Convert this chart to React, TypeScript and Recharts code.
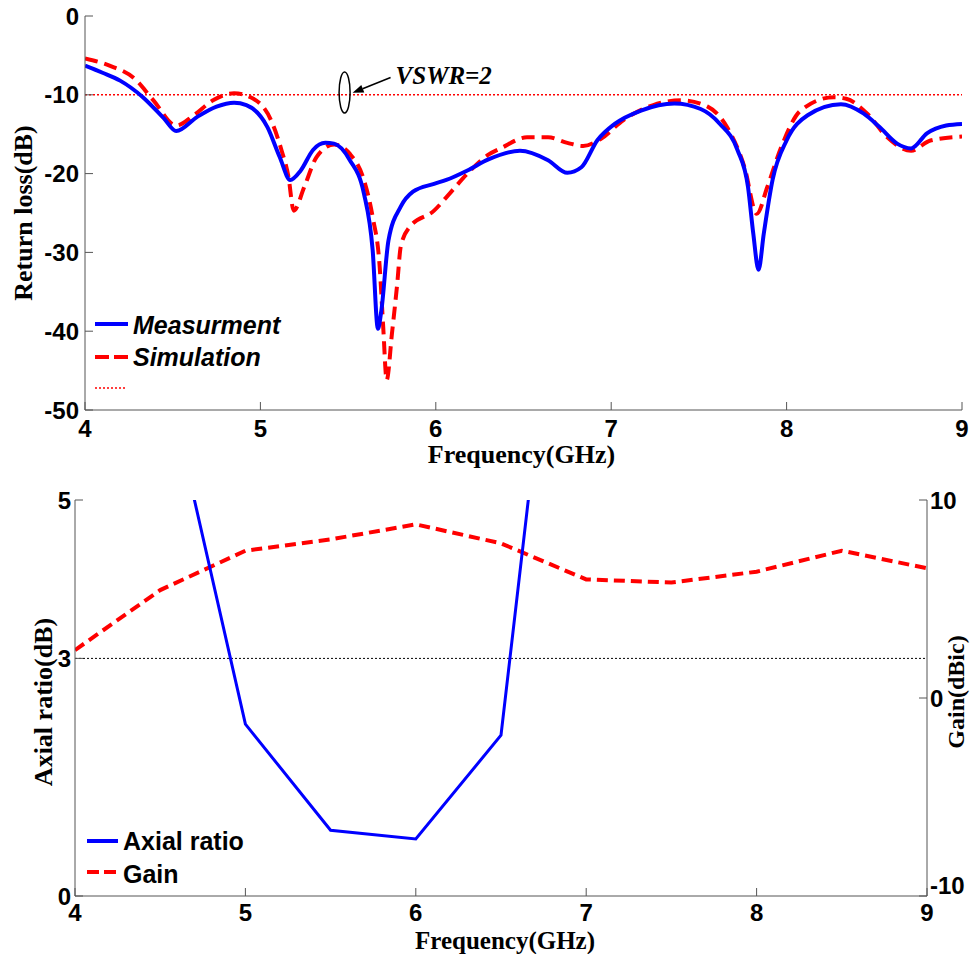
import React from "react";
import {
  LineChart,
  Line,
  XAxis,
  YAxis,
  ReferenceLine,
  ReferenceDot,
  Legend,
} from "recharts";

// ---- data ----
const FREQ_TICKS = [4, 5, 6, 7, 8, 9];
const RL_TICKS = [-50, -40, -30, -20, -10, 0];
const AR_TICKS = [0, 3, 5];
const GAIN_TICKS = [-10, 0, 10];

const measFreq = [
  4.0, 4.1, 4.2, 4.33, 4.45, 4.52, 4.64, 4.75, 4.85, 4.92, 5.04, 5.11, 5.17,
  5.23, 5.3, 5.37, 5.42, 5.51, 5.59, 5.64, 5.67, 5.69, 5.73, 5.8, 5.87, 5.99,
  6.06, 6.18, 6.3, 6.48, 6.64, 6.75, 6.83, 6.92, 7.02, 7.17, 7.36, 7.51, 7.62,
  7.72, 7.78, 7.81, 7.84, 7.87, 7.92, 8.0, 8.12, 8.31, 8.44, 8.53, 8.63, 8.71,
  8.8, 8.91, 9.0,
];
const measRL = [
  -6.3, -7.2, -8.2, -10.3, -13.0, -14.6, -12.8, -11.5, -11.0, -11.3, -14.1,
  -17.9, -20.8, -19.6, -17.0, -16.1, -16.2, -18.3, -22.5, -29.7, -39.7, -37.3,
  -28.5, -24.2, -22.3, -21.3, -20.8, -19.6, -18.2, -17.1, -18.3, -19.9, -19.2,
  -15.8, -13.7, -12.0, -11.1, -11.8, -13.7, -17.0, -21.7, -27.6, -32.2, -27.6,
  -20.8, -15.8, -12.6, -11.2, -12.4, -14.1, -16.2, -16.8, -14.9, -13.9, -13.7,
];

const simFreq = [
  4.0, 4.14, 4.28, 4.39, 4.52, 4.62, 4.73, 4.85, 4.96, 5.06, 5.12, 5.16, 5.19,
  5.25, 5.32, 5.42, 5.51, 5.59, 5.64, 5.68, 5.7, 5.72, 5.75, 5.78, 5.8, 5.85,
  5.99, 6.08, 6.18, 6.3, 6.37, 6.52, 6.64, 6.75, 6.84, 6.94, 7.07, 7.24, 7.4,
  7.55, 7.66, 7.76, 7.83, 7.89, 7.97, 8.08, 8.27, 8.34, 8.46, 8.57, 8.71, 8.82,
  9.0,
];
const simRL = [
  -5.4, -6.3, -7.9, -10.7, -13.9, -12.6, -10.7, -9.8, -10.5, -13.2, -17.0,
  -20.4, -24.7, -21.7, -17.9, -16.3, -17.5, -20.8, -25.5, -31.8, -39.4, -46.2,
  -40.3, -34.0, -29.3, -26.8, -24.7, -22.5, -20.0, -17.6, -16.8, -15.4, -15.4,
  -16.1, -16.5, -15.6, -13.2, -11.3, -10.7, -11.5, -14.1, -19.2, -25.1, -21.7,
  -16.6, -12.0, -10.3, -10.5, -12.4, -15.3, -17.1, -15.8, -15.3,
];

const arFreq = [4.5, 5, 5.5, 6, 6.5, 7];
const arValues = [6.9, 2.17, 0.83, 0.72, 2.03, 11.3];

const gainFreq = [4, 4.5, 5, 5.5, 6, 6.5, 7, 7.5, 8, 8.5, 9];
const gainValues = [2.42, 5.45, 7.44, 8.01, 8.77, 7.81, 5.99, 5.83, 6.38, 7.44, 6.55];

const VSWR_LEVEL = -10;
const AR_LIMIT = 3;

const topSeries = ["Measurment", "Simulation"];
const bottomSeries = ["Axial ratio", "Gain"];

const zip = (xs: number[], ys: number[]) => xs.map((f, i) => ({ f, v: ys[i] }));

// ---- styling ----
const BLUE = "#0000ff";
const RED = "#ff0000";
const AXIS = "#555555";
const SANS = "'Liberation Sans', Arial, sans-serif";
const SERIF = "'Liberation Serif', 'Times New Roman', serif";

// inward MATLAB-style ticks; label optional
const XTick = (props: any) => {
  const { x, y, payload, dir, labelDy, showLabel } = props;
  return (
    <g>
      <line x1={x} y1={y} x2={x} y2={y + dir * 8} stroke={AXIS} />
      {showLabel && (
        <text
          x={x}
          y={y + labelDy}
          textAnchor="middle"
          fontFamily={SANS}
          fontWeight="bold"
          fontSize={24}
          fill="#000"
        >
          {payload.value}
        </text>
      )}
    </g>
  );
};

const YTick = (props: any) => {
  const { x, y, payload, dir, labelDx, anchor, showLabel, liftValue, lift = 0 } = props;
  // the lowest label on the gain axis sits a little higher, clear of the "9"
  const ly = payload.value === liftValue ? y - lift : y;
  return (
    <g>
      <line x1={x} y1={y} x2={x + dir * 8} y2={y} stroke={AXIS} />
      {showLabel && (
        <text
          x={x + labelDx}
          y={ly}
          dy="0.36em"
          textAnchor={anchor}
          fontFamily={SANS}
          fontWeight="bold"
          fontSize={24}
          fill="#000"
        >
          {payload.value}
        </text>
      )}
    </g>
  );
};

const XTitle = ({ viewBox, text, dx, dy, size }: any) => (
  <text
    x={viewBox.x + viewBox.width / 2 + dx}
    y={viewBox.y + dy}
    textAnchor="middle"
    fontFamily={SERIF}
    fontWeight="bold"
    fontSize={size}
    fill="#000"
  >
    {text}
  </text>
);

const YTitle = ({ viewBox, text, cx, dy, size }: any) => {
  const cy = viewBox.y + viewBox.height / 2 + dy;
  return (
    <text
      x={cx}
      y={cy}
      transform={`rotate(-90 ${cx} ${cy})`}
      textAnchor="middle"
      dominantBaseline="central"
      fontFamily={SERIF}
      fontWeight="bold"
      fontSize={size}
      fill="#000"
    >
      {text}
    </text>
  );
};

const VswrMark = ({ cx, cy }: any) => (
  <g>
    <ellipse cx={cx} cy={cy} rx={5.5} ry={20.5} fill="none" stroke="#000" strokeWidth={1.5} />
    <line x1={cx + 46} y1={cy - 15} x2={cx + 18} y2={cy - 3.7} stroke="#000" strokeWidth={1.5} />
    <polygon
      points={`${cx + 8},${cy + 0.4} ${cx + 19.7},${cy} ${cx + 16.7},${cy - 7.4}`}
      fill="#000"
    />
    <text
      x={cx + 51}
      y={cy - 8}
      fontFamily={SERIF}
      fontStyle="italic"
      fontWeight="bold"
      fontSize={25}
      fill="#000"
    >
      VSWR=2
    </text>
  </g>
);

const TopLegend = () => (
  <svg width={220} height={100}>
    <line x1={5} y1={24} x2={38} y2={24} stroke={BLUE} strokeWidth={4} />
    <text x={43} y={34} fontFamily={SANS} fontStyle="italic" fontWeight="bold" fontSize={25} fill="#000">
      {topSeries[0]}
    </text>
    <line x1={5} y1={57} x2={38} y2={57} stroke={RED} strokeWidth={4} strokeDasharray="14 5" />
    <text x={43} y={66} fontFamily={SANS} fontStyle="italic" fontWeight="bold" fontSize={25} fill="#000">
      {topSeries[1]}
    </text>
    <line x1={5} y1={88} x2={37} y2={88} stroke={RED} strokeWidth={1.5} strokeDasharray="2 2" />
  </svg>
);

const BottomLegend = () => (
  <svg width={200} height={70}>
    <line x1={7} y1={21} x2={38} y2={21} stroke={BLUE} strokeWidth={4} />
    <text x={43} y={30} fontFamily={SANS} fontWeight="bold" fontSize={25} fill="#000">
      {bottomSeries[0]}
    </text>
    <line x1={7} y1={52} x2={36} y2={52} stroke={RED} strokeWidth={4} strokeDasharray="12 5" />
    <text x={43} y={63} fontFamily={SANS} fontWeight="bold" fontSize={25} fill="#000">
      {bottomSeries[1]}
    </text>
  </svg>
);

const ReturnLossChart = () => (
  <LineChart width={971} height={480} margin={{ top: 16, right: 9, bottom: 0, left: 0 }}>
    <XAxis
      type="number"
      dataKey="f"
      domain={[4, 9]}
      ticks={FREQ_TICKS}
      interval={0}
      allowDataOverflow
      height={70}
      tickSize={0}
      tickMargin={0}
      axisLine={{ stroke: AXIS }}
      tick={<XTick dir={-1} labelDy={27} showLabel />}
      label={<XTitle text="Frequency(GHz)" dx={-2} dy={53} size={26} />}
    />
    <XAxis
      xAxisId="top"
      orientation="top"
      type="number"
      domain={[4, 9]}
      ticks={FREQ_TICKS}
      interval={0}
      allowDataOverflow
      height={0}
      tickSize={0}
      tickMargin={0}
      axisLine={{ stroke: AXIS }}
      tick={<XTick dir={1} showLabel={false} />}
    />
    <YAxis
      type="number"
      domain={[-50, 0]}
      ticks={RL_TICKS}
      interval={0}
      allowDataOverflow
      width={85}
      tickSize={0}
      tickMargin={0}
      axisLine={{ stroke: AXIS }}
      tick={<YTick dir={1} labelDx={-6} anchor="end" showLabel />}
      label={<YTitle text="Return loss(dB)" cx={23} dy={0} size={26} />}
    />
    <YAxis
      yAxisId="right"
      orientation="right"
      type="number"
      domain={[-50, 0]}
      ticks={RL_TICKS}
      interval={0}
      allowDataOverflow
      width={0}
      tickSize={0}
      tickMargin={0}
      axisLine={{ stroke: AXIS }}
      tick={<YTick dir={-1} showLabel={false} />}
    />
    <ReferenceLine y={VSWR_LEVEL} stroke={RED} strokeWidth={1.5} strokeDasharray="2 2" />
    <Line
      data={zip(simFreq, simRL)}
      dataKey="v"
      name={topSeries[1]}
      type="monotone"
      stroke={RED}
      strokeWidth={4}
      strokeDasharray="13 7"
      dot={false}
      activeDot={false}
      isAnimationActive={false}
    />
    <Line
      data={zip(measFreq, measRL)}
      dataKey="v"
      name={topSeries[0]}
      type="monotone"
      stroke={BLUE}
      strokeWidth={4}
      dot={false}
      activeDot={false}
      isAnimationActive={false}
    />
    <ReferenceDot x={5.48} y={-9.7} r={0} shape={(p: any) => <VswrMark {...p} />} />
    <Legend
      layout="vertical"
      align="center"
      verticalAlign="middle"
      wrapperStyle={{ left: 90, top: 300, width: 220, height: 100 }}
      content={() => <TopLegend />}
    />
  </LineChart>
);

const AxialGainChart = () => (
  <LineChart width={971} height={474} margin={{ top: 20, right: 0, bottom: 0, left: 0 }}>
    <XAxis
      type="number"
      dataKey="f"
      domain={[4, 9]}
      ticks={FREQ_TICKS}
      interval={0}
      allowDataOverflow
      height={58}
      tickSize={0}
      tickMargin={0}
      axisLine={{ stroke: AXIS }}
      tick={<XTick dir={-1} labelDy={25} showLabel />}
      label={<XTitle text="Frequency(GHz)" dx={4} dy={53} size={25} />}
    />
    <XAxis
      xAxisId="top"
      orientation="top"
      type="number"
      domain={[4, 9]}
      ticks={FREQ_TICKS}
      interval={0}
      allowDataOverflow
      height={0}
      tickSize={0}
      tickMargin={0}
      axisLine={{ stroke: AXIS }}
      tick={<XTick dir={1} showLabel={false} />}
    />
    <YAxis
      yAxisId="left"
      type="number"
      domain={[0, 5]}
      ticks={AR_TICKS}
      interval={0}
      allowDataOverflow
      width={75}
      tickSize={0}
      tickMargin={0}
      axisLine={{ stroke: AXIS }}
      tick={<YTick dir={1} labelDx={-4} anchor="end" showLabel />}
      label={<YTitle text="Axial ratio(dB)" cx={43} dy={4} size={26} />}
    />
    <YAxis
      yAxisId="right"
      orientation="right"
      type="number"
      domain={[-10, 10]}
      ticks={GAIN_TICKS}
      interval={0}
      allowDataOverflow
      width={44}
      tickSize={0}
      tickMargin={0}
      axisLine={{ stroke: AXIS }}
      tick={<YTick dir={-1} labelDx={3} anchor="start" showLabel liftValue={-10} lift={11} />}
      label={<YTitle text="Gain(dBic)" cx={956} dy={-6} size={24} />}
    />
    <ReferenceLine yAxisId="left" y={AR_LIMIT} stroke="#000" strokeWidth={1} strokeDasharray="2 2" />
    <Line
      yAxisId="right"
      data={zip(gainFreq, gainValues)}
      dataKey="v"
      name={bottomSeries[1]}
      type="linear"
      stroke={RED}
      strokeWidth={4}
      strokeDasharray="11 6"
      dot={false}
      activeDot={false}
      isAnimationActive={false}
    />
    <Line
      yAxisId="left"
      data={zip(arFreq, arValues)}
      dataKey="v"
      name={bottomSeries[0]}
      type="linear"
      stroke={BLUE}
      strokeWidth={3}
      dot={false}
      activeDot={false}
      isAnimationActive={false}
    />
    <Legend
      layout="vertical"
      align="center"
      verticalAlign="middle"
      wrapperStyle={{ left: 80, top: 340, width: 200, height: 70 }}
      content={() => <BottomLegend />}
    />
  </LineChart>
);

export default function App() {
  return (
    <div style={{ position: "absolute", top: 0, left: 0, width: 971, height: 954, background: "#fff" }}>
      <div style={{ position: "absolute", top: 0, left: 0 }}>
        <ReturnLossChart />
      </div>
      <div style={{ position: "absolute", top: 480, left: 0 }}>
        <AxialGainChart />
      </div>
    </div>
  );
}
